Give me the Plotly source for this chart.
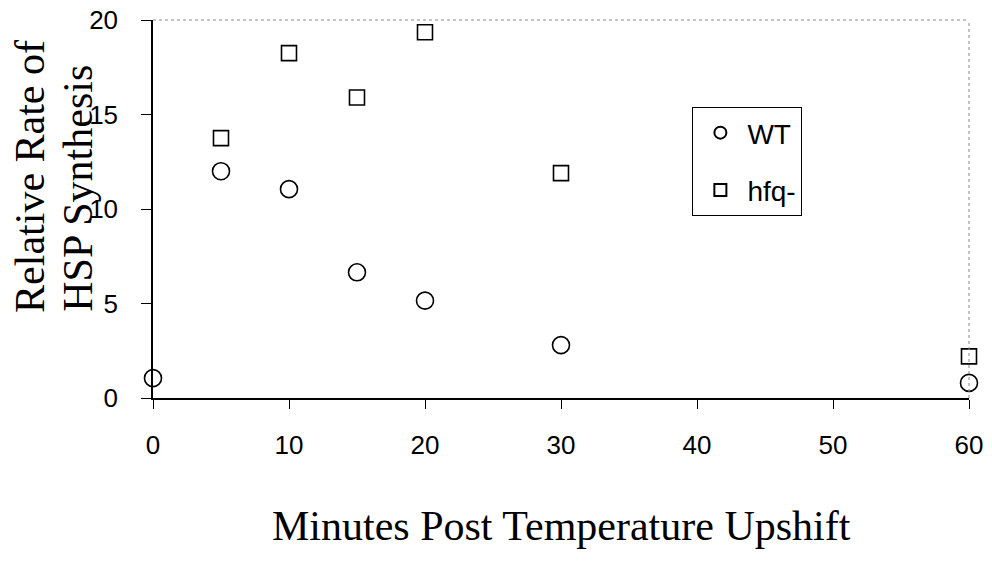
import plotly.graph_objects as go

minutes = [0, 5, 10, 15, 20, 30, 60]
wt_rate = [1.05, 12.0, 11.05, 6.65, 5.15, 2.8, 0.8]
hfq_minutes = [5, 10, 15, 20, 30, 60]
hfq_rate = [13.75, 18.25, 15.9, 19.35, 11.9, 2.2]
x_ticks = [0, 10, 20, 30, 40, 50, 60]
y_ticks = [0, 5, 10, 15, 20]

fig = go.Figure()
fig.add_trace(go.Scatter(
    x=minutes, y=wt_rate, mode="markers", name="WT", legendgroup="a",
    marker=dict(symbol="circle-open", size=17, color="black", line=dict(width=1.6, color="black")),
    cliponaxis=False))
fig.add_trace(go.Scatter(
    x=hfq_minutes, y=hfq_rate, mode="markers", name="hfq-", legendgroup="b",
    marker=dict(symbol="square-open", size=15, color="black", line=dict(width=1.6, color="black")),
    cliponaxis=False))

tick_font = dict(family="Liberation Sans, Arial", size=26, color="black")
title_font = dict(family="Liberation Serif, Times New Roman", size=42, color="black")

fig.update_layout(
    width=992, height=565,
    margin=dict(l=153, r=23, t=20, b=167, autoexpand=False),
    paper_bgcolor="white", plot_bgcolor="white",
    font=dict(family="Liberation Sans, Arial", size=26, color="black"),
    showlegend=True,
    legend=dict(
        x=0.661, y=0.770, xanchor="left", yanchor="top",
        bordercolor="black", borderwidth=1, bgcolor="white",
        font=dict(family="Liberation Sans, Arial", size=28, color="black"),
        tracegroupgap=18, itemsizing="constant", itemwidth=44,
    ),
    xaxis=dict(
        range=[0, 60], tickvals=x_ticks, ticks="outside", ticklen=9, tickwidth=1.2,
        tickcolor="black", showline=True, linecolor="black", linewidth=1.5,
        showgrid=False, zeroline=False, ticklabelstandoff=14, tickfont=tick_font,
        automargin=False,
    ),
    yaxis=dict(
        range=[0, 20], tickvals=y_ticks, ticks="outside", ticklen=10, tickwidth=1.2,
        tickcolor="black", showline=True, linecolor="black", linewidth=1.5,
        showgrid=False, zeroline=False, ticklabelstandoff=18, tickfont=tick_font,
        automargin=False,
    ),
    shapes=[
        dict(type="line", xref="paper", yref="paper", x0=0, x1=1, y0=1, y1=1,
             line=dict(color="#888888", width=1, dash="dot")),
        dict(type="line", xref="paper", yref="paper", x0=1, x1=1, y0=0, y1=1,
             line=dict(color="#888888", width=1, dash="dot")),
    ],
    annotations=[
        dict(text="Relative Rate of", xref="paper", yref="paper",
             x=-0.151, y=0.587, xanchor="center", yanchor="middle", textangle=-90,
             showarrow=False, font=title_font),
        dict(text="HSP Synthesis", xref="paper", yref="paper",
             x=-0.092, y=0.556, xanchor="center", yanchor="middle", textangle=-90,
             showarrow=False, font=title_font),
        dict(text="Minutes Post Temperature Upshift", xref="paper", yref="paper",
             x=0.5, y=-0.339, xanchor="center", yanchor="middle",
             showarrow=False, font=title_font),
    ],
)

fig.write_html("out.html")
